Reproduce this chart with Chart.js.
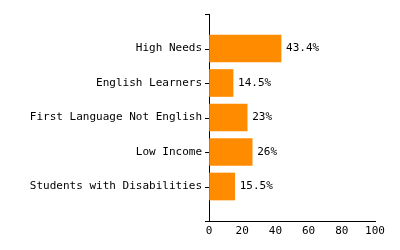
<!DOCTYPE html>
<html>
<head>
<meta charset="utf-8">
<script src="https://cdn.jsdelivr.net/npm/chart.js@4/dist/chart.umd.min.js"></script>
<style>
  html, body { margin: 0; padding: 0; background: #fff; }
  #wrap { width: 400px; height: 250px; }
</style>
</head>
<body>
<div id="wrap"><canvas id="chart" width="400" height="250"></canvas></div>
<script>
// categories, top to bottom (blank ends give the outer ticks)
const categories = ['', 'High Needs', 'English Learners', 'First Language Not English', 'Low Income', 'Students with Disabilities', '']
const values = [null, 43.4, 14.5, 23, 26, 15.5, null]
const xTicks = [0, 20, 40, 60, 80, 100]

const font = { family: '"DejaVu Sans Mono", monospace', size: 11 }

// writes "43.4%" etc just past the end of each bar
const valueLabels = {
  id: 'valueLabels',
  afterDatasetsDraw(chart) {
    const ctx = chart.ctx
    const meta = chart.getDatasetMeta(0)
    ctx.save()
    ctx.font = font.size + 'px ' + font.family
    ctx.fillStyle = '#000'
    ctx.textAlign = 'left'
    ctx.textBaseline = 'middle'
    meta.data.forEach((bar, i) => {
      const v = values[i]
      if (v == null) return
      ctx.fillText(v + '%', bar.x + 5, bar.y)
    })
    ctx.restore()
  }
}

// little tick marks left of the y axis, one per category
const yTickMarks = {
  id: 'yTickMarks',
  afterDraw(chart) {
    const ctx = chart.ctx
    const y = chart.scales.y
    ctx.save()
    ctx.strokeStyle = '#000'
    ctx.lineWidth = 1
    ctx.beginPath()
    y.ticks.forEach((t, i) => {
      const py = Math.round(y.getPixelForTick(i)) + 0.5
      ctx.moveTo(y.right - 4, py)
      ctx.lineTo(y.right, py)
    })
    ctx.stroke()
    ctx.restore()
  }
}

new Chart(document.getElementById('chart'), {
  type: 'bar',
  data: {
    labels: categories,
    datasets: [{
      data: values,
      backgroundColor: '#ff8c00',
      borderWidth: 0,
      barThickness: 27
    }]
  },
  options: {
    indexAxis: 'y',
    responsive: false,
    animation: false,
    layout: { padding: { top: 14, right: 25, bottom: 0, left: 0 } },
    plugins: { legend: { display: false }, tooltip: { enabled: false } },
    scales: {
      y: {
        offset: false,
        grid: { offset: false, display: true, drawOnChartArea: false, drawTicks: false },
        border: { color: '#000', width: 1 },
        ticks: { color: '#000', font, padding: 7, autoSkip: false },
        afterFit(scale) { scale.width = 209 }
      },
      x: {
        min: 0,
        max: 100,
        afterBuildTicks(scale) { scale.ticks = xTicks.map(v => ({ value: v })) },
        grid: { drawOnChartArea: false, drawTicks: false },
        border: { color: '#000', width: 1 },
        ticks: { color: '#000', font, padding: 4, maxRotation: 0 },
        afterFit(scale) { scale.height = 29 }
      }
    }
  },
  plugins: [valueLabels, yTickMarks]
})
</script>
</body>
</html>
